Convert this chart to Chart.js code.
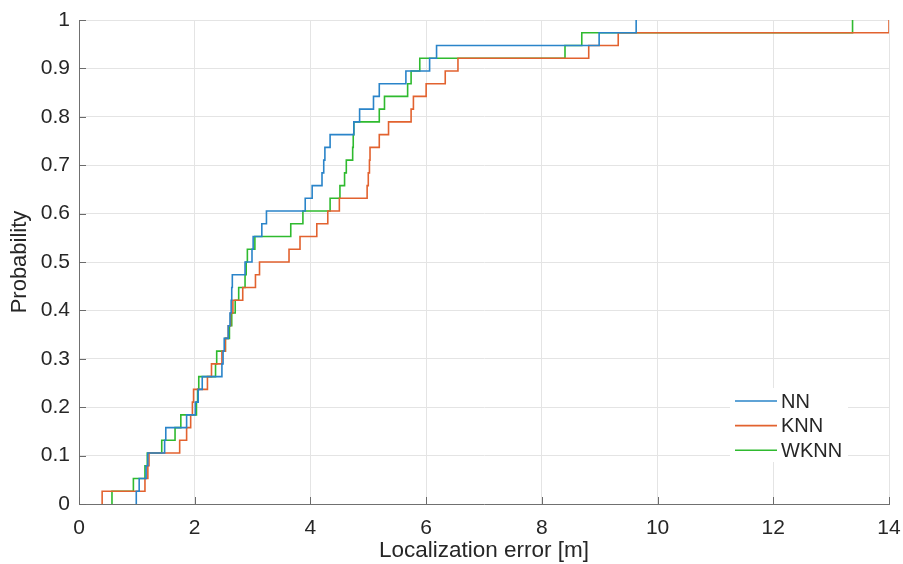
<!DOCTYPE html>
<html>
<head>
<meta charset="utf-8">
<script src="https://cdn.jsdelivr.net/npm/chart.js@4.4.1/dist/chart.umd.min.js"></script>
<style>
html,body{margin:0;padding:0;background:#fff;}
#wrap{width:903px;height:564px;}
</style>
</head>
<body>
<div id="wrap"><canvas id="cdf" width="903" height="564"></canvas></div>
<script>
// Empirical CDF of localization error, 38 test points per method

const seriesNames = ['NN', 'KNN', 'WKNN'];
const seriesColors = ['#2a84c9', '#e2622f', '#2fba2f'];

// sorted localization errors [m]
const errNN = [0.99, 1.04, 1.16, 1.19, 1.48, 1.50, 1.86, 2.01, 2.06, 2.13,
  2.47, 2.49, 2.51, 2.58, 2.61, 2.63, 2.64, 2.65, 2.87, 2.99,
  3.01, 3.16, 3.24, 3.91, 4.03, 4.20, 4.23, 4.25, 4.34, 4.75,
  4.85, 5.09, 5.19, 5.65, 6.06, 6.18, 8.99, 9.63];
const errKNN = [0.40, 1.14, 1.19, 1.21, 1.74, 1.86, 1.93, 1.96, 1.98, 2.22,
  2.29, 2.47, 2.53, 2.58, 2.62, 2.66, 2.83, 3.05, 3.12, 3.63,
  3.82, 4.11, 4.30, 4.50, 4.98, 5.00, 5.02, 5.03, 5.19, 5.35,
  5.74, 5.78, 6.00, 6.33, 6.55, 8.81, 9.32, 14.0];
const errWKNN = [0.57, 0.94, 1.14, 1.18, 1.43, 1.66, 1.76, 2.03, 2.05, 2.07,
  2.36, 2.38, 2.53, 2.60, 2.64, 2.70, 2.76, 2.87, 2.89, 2.91,
  3.04, 3.66, 3.87, 4.34, 4.51, 4.59, 4.62, 4.73, 4.74, 4.75,
  5.19, 5.28, 5.68, 5.74, 5.89, 8.40, 8.69, 13.37];

const xTicks = [0, 2, 4, 6, 8, 10, 12, 14];
const yTicks = [0, 0.1, 0.2, 0.3, 0.4, 0.5, 0.6, 0.7, 0.8, 0.9, 1];
const yTickLabels = ['0', '0.1', '0.2', '0.3', '0.4', '0.5', '0.6', '0.7', '0.8', '0.9', '1'];

const FONT = "'Liberation Sans', Arial, Helvetica, sans-serif";
const TEXT = '#262626';

// stairs: start at (x1, 0), then one step of 1/N per sample
function ecdf(errs) {
  const n = errs.length;
  const pts = [{x: errs[0], y: 0}];
  errs.forEach((v, i) => pts.push({x: v, y: (i + 1) / n}));
  return pts;
}

const allErrs = [errNN, errKNN, errWKNN];
const datasets = allErrs.map((e, i) => ({
  label: seriesNames[i],
  data: ecdf(e),
  borderColor: seriesColors[i],
  borderWidth: 1.6,
  pointRadius: 0,
  fill: false,
  stepped: 'before'
}));

// MATLAB-style inward tick marks
const innerTicks = {
  id: 'innerTicks',
  afterDatasetsDraw(chart) {
    const {ctx, chartArea: a, scales: {x, y}} = chart;
    ctx.save();
    ctx.strokeStyle = '#6b6b6b';
    ctx.lineWidth = 1;
    ctx.beginPath();
    xTicks.forEach(v => {
      const px = Math.round(x.getPixelForValue(v)) + 0.5;
      ctx.moveTo(px, a.bottom); ctx.lineTo(px, a.bottom - 7);
    });
    yTicks.forEach(v => {
      const py = Math.round(y.getPixelForValue(v)) + 0.5;
      ctx.moveTo(a.left, py); ctx.lineTo(a.left + 7, py);
    });
    ctx.stroke();
    ctx.restore();
  }
};

// legend box inside the axes, lower right
const innerLegend = {
  id: 'innerLegend',
  afterDraw(chart) {
    const {ctx} = chart;
    ctx.save();
    ctx.fillStyle = '#fff';
    ctx.fillRect(730, 388, 118, 74);
    ctx.font = '20px ' + FONT;
    ctx.textBaseline = 'middle';
    ctx.textAlign = 'left';
    seriesNames.forEach((name, i) => {
      const yy = 401 + i * 24.6;
      ctx.strokeStyle = seriesColors[i];
      ctx.lineWidth = 1.6;
      ctx.beginPath();
      ctx.moveTo(735, yy); ctx.lineTo(777, yy);
      ctx.stroke();
      ctx.fillStyle = TEXT;
      ctx.fillText(name, 781, yy + 1);
    });
    ctx.restore();
  }
};

new Chart(document.getElementById('cdf'), {
  type: 'line',
  data: {datasets},
  options: {
    responsive: false,
    animation: false,
    layout: {padding: {top: 20, right: 14, bottom: 0, left: 0}},
    plugins: {legend: {display: false}, tooltip: {enabled: false}},
    scales: {
      x: {
        type: 'linear', min: 0, max: 14,
        afterBuildTicks: s => { s.ticks = xTicks.map(v => ({value: v})); },
        afterFit: s => { s.height = 60; s.paddingLeft = 0; s.paddingRight = 0; },
        ticks: {font: {family: FONT, size: 21}, color: TEXT, padding: 12,
          callback: v => String(v)},
        grid: {color: '#e4e4e4', drawTicks: false},
        border: {display: true, color: '#707070', width: 1},
        title: {display: true, text: 'Localization error [m]',
          font: {family: FONT, size: 22.5}, color: TEXT, padding: {top: 0, bottom: 0}}
      },
      y: {
        type: 'linear', min: 0, max: 1,
        afterBuildTicks: s => { s.ticks = yTicks.map(v => ({value: v})); },
        afterFit: s => { s.width = 79; s.paddingTop = 0; s.paddingBottom = 0; },
        ticks: {font: {family: FONT, size: 21}, color: TEXT, padding: 9,
          callback: (v, i) => yTickLabels[i]},
        grid: {color: '#e4e4e4', drawTicks: false},
        border: {display: true, color: '#707070', width: 1},
        title: {display: true, text: 'Probability',
          font: {family: FONT, size: 22}, color: TEXT, padding: {top: 7, bottom: 0}}
      }
    }
  },
  plugins: [innerTicks, innerLegend]
});
</script>
</body>
</html>
